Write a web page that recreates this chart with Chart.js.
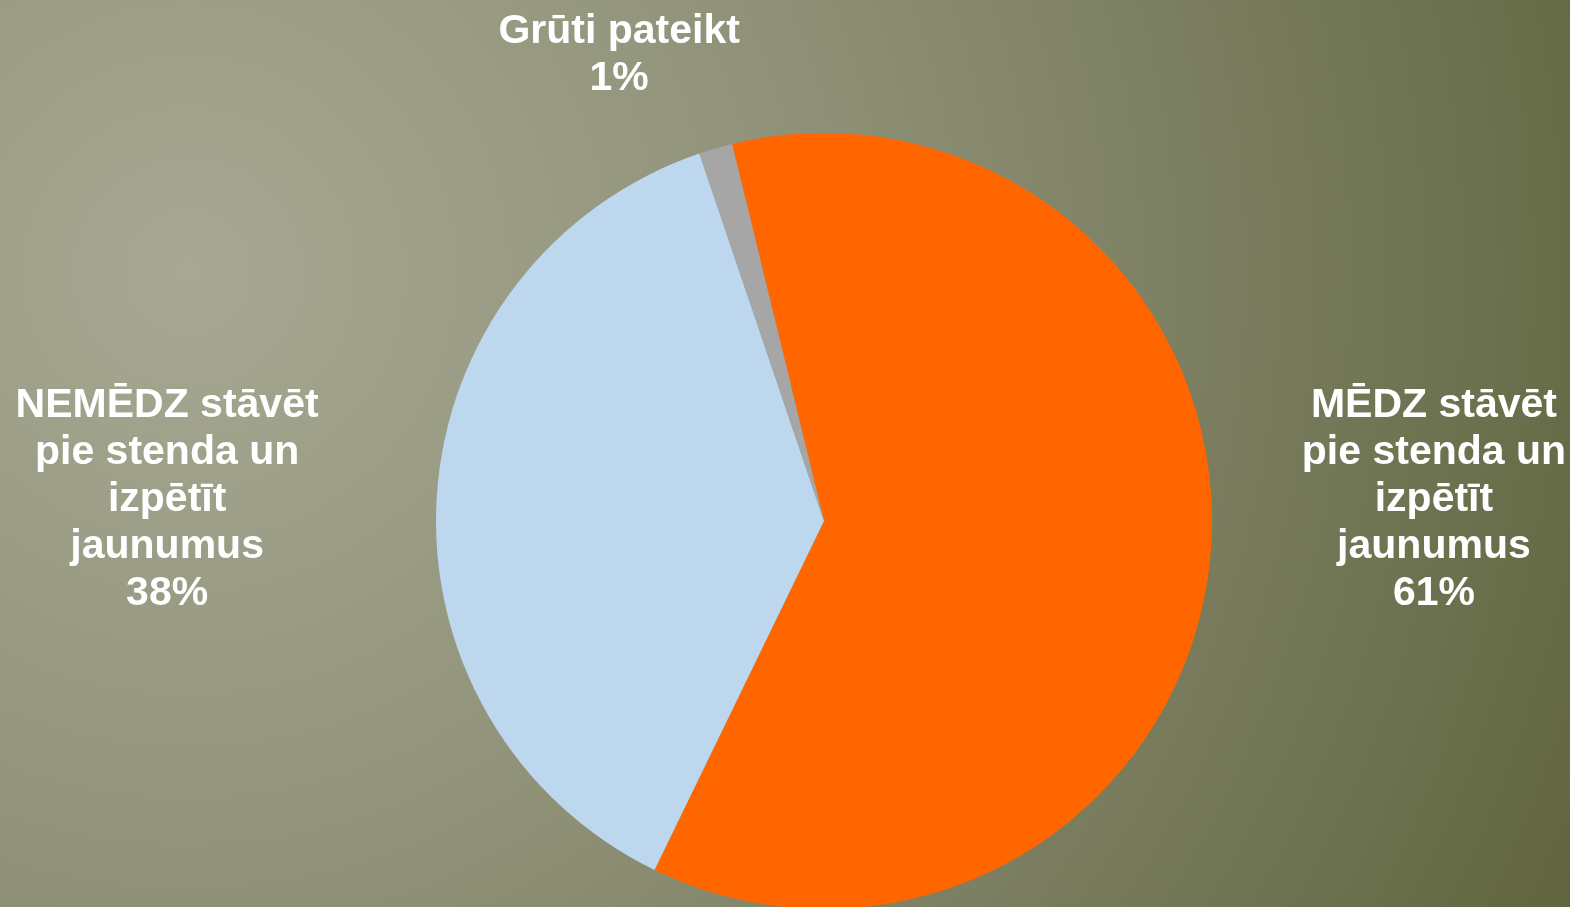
<!DOCTYPE html>
<html>
<head>
<meta charset="utf-8">
<script src="https://cdn.jsdelivr.net/npm/chart.js@4"></script>
<style>
  html, body { margin: 0; padding: 0; overflow: hidden; }
  #wrap {
    width: 1570px; height: 907px; overflow: hidden; position: relative;
    background: radial-gradient(circle farthest-corner at 12% 30%, #a7a893 0%, #8d8f75 45%, #747858 75%, #60653f 100%);
  }
  canvas { position: absolute; left: 0; top: 0; }
</style>
</head>
<body>
<div id="wrap"><canvas id="pie" width="1570" height="910"></canvas></div>
<script>
const categories = [
  ['MĒDZ stāvēt', 'pie stenda un', 'izpētīt', 'jaunumus'],
  ['NEMĒDZ stāvēt', 'pie stenda un', 'izpētīt', 'jaunumus'],
  ['Grūti pateikt']
];
const shares = [61, 37.6, 1.4];
const shareLabels = ['61%', '38%', '1%'];
const sliceColors = ['#ff6600', '#bdd7ee', '#a6a6a6'];

// label anchor (in units of the pie radius, relative to the pie centre)
const labelAnchors = [[1.572, -0.054], [-1.693, -0.054], [-0.528, -1.201]];

const outsideLabels = {
  id: 'outsideLabels',
  afterDatasetsDraw(chart) {
    const ctx = chart.ctx;
    const arcs = chart.getDatasetMeta(0).data;
    ctx.save();
    ctx.fillStyle = '#ffffff';
    ctx.font = 'bold 41px "Liberation Sans", Arial, sans-serif';
    ctx.textAlign = 'center';
    ctx.textBaseline = 'middle';
    arcs.forEach((arc, i) => {
      const r = arc.outerRadius;
      const lines = categories[i].concat([shareLabels[i]]);
      const cx = arc.x + labelAnchors[i][0] * r;
      const cy = arc.y + labelAnchors[i][1] * r;
      const lh = 47;
      const y0 = cy - (lines.length - 1) * lh / 2;
      lines.forEach((t, k) => ctx.fillText(t, cx, y0 + k * lh));
    });
    ctx.restore();
  }
};

new Chart(document.getElementById('pie').getContext('2d'), {
  type: 'pie',
  data: {
    labels: categories.map(c => c.join(' ')),
    datasets: [{
      data: shares,
      backgroundColor: sliceColors,
      borderWidth: 0
    }]
  },
  options: {
    responsive: false,
    animation: false,
    rotation: -13.7,
    layout: { padding: { left: 436, right: 358, top: 133, bottom: 1 } },
    plugins: {
      legend: { display: false },
      tooltip: { enabled: false }
    }
  },
  plugins: [outsideLabels]
});
</script>
</body>
</html>
